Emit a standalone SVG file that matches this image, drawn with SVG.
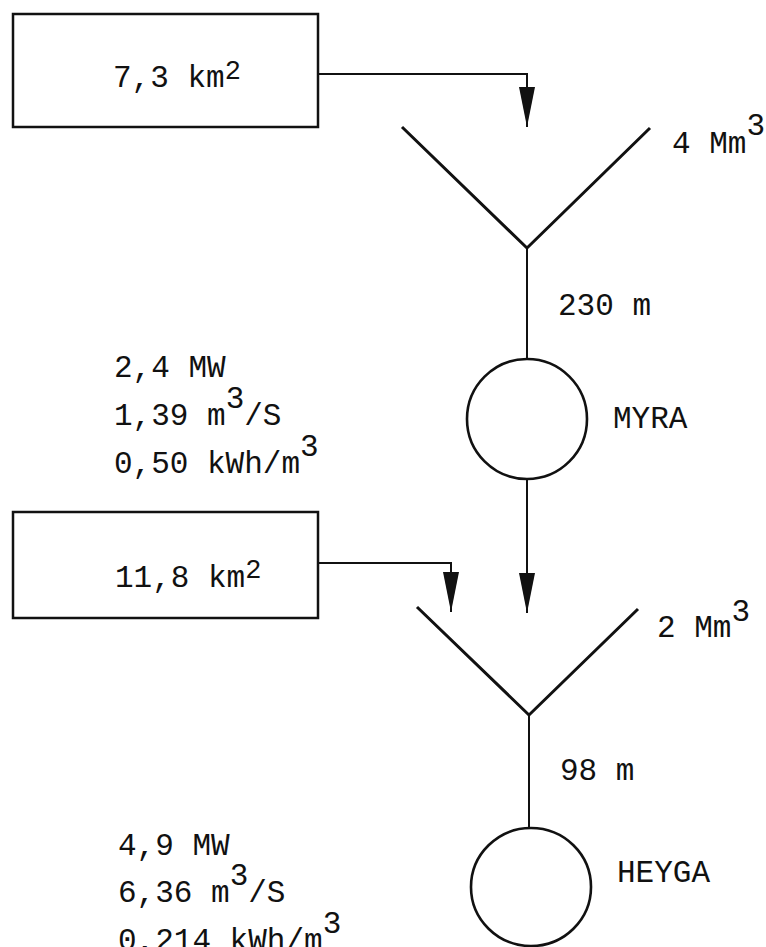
<svg xmlns="http://www.w3.org/2000/svg" width="766" height="947" viewBox="0 0 766 947">
<style>
  text { font-family: "Liberation Mono", "Courier New", monospace; font-size: 31px; fill: #111; }
  .box { fill: #fff; stroke: #111; stroke-width: 2.5; }
  .res { fill: none; stroke: #111; stroke-width: 3; stroke-linejoin: miter; }
  .st { fill: #fff; stroke: #111; stroke-width: 2.6; }
  .conn { fill: none; stroke: #111; stroke-width: 2; }
  .sup2 { font-size: 27px; }
</style>
<defs>
  <marker id="ah" viewBox="0 0 40 16" refX="40" refY="8" markerWidth="40" markerHeight="16" markerUnits="userSpaceOnUse" orient="auto">
    <path d="M0,0 L40,8 L0,16 Z" fill="#111"/>
  </marker>
</defs>
<rect width="766" height="947" fill="#fff"/>

<g id="catchment1">
  <rect class="box" x="13" y="14" width="305" height="113"/>
  <text x="113" y="87">7,3 km<tspan class="sup2" dy="-8">2</tspan></text>
</g>

<g id="reservoir1">
  <polyline class="res" points="402,127 527,248 650,128"/>
  <text x="672" y="153">4 Mm<tspan dy="-18">3</tspan></text>
</g>

<g id="myra">
  <circle class="st" cx="527" cy="419" r="60"/>
  <text x="613" y="428">MYRA</text>
  <text x="114" y="377">2,4 MW</text>
  <text x="114" y="425">1,39 m<tspan dy="-17">3</tspan><tspan dy="17">/S</tspan></text>
  <text x="114" y="473">0,50 kWh/m<tspan dy="-17">3</tspan></text>
</g>

<g id="catchment2">
  <rect class="box" x="13" y="512" width="305" height="106"/>
  <text x="115" y="587">11,8 km<tspan class="sup2" dy="-9">2</tspan></text>
</g>

<g id="reservoir2">
  <polyline class="res" points="417,607 529,715 638,609"/>
  <text x="657" y="637">2 Mm<tspan dy="-16">3</tspan></text>
</g>

<g id="heyga">
  <ellipse class="st" cx="531" cy="887" rx="60" ry="59"/>
  <text x="617" y="882">HEYGA</text>
  <text x="118" y="855">4,9 MW</text>
  <text x="118" y="902">6,36 m<tspan dy="-17">3</tspan><tspan dy="17">/S</tspan></text>
  <text x="118" y="950">0,214 kWh/m<tspan dy="-17">3</tspan></text>
</g>

<g id="connectors">
  <path class="conn" d="M318,74 H527 V127" marker-end="url(#ah)"/>
  <path class="conn" d="M527,248 V359"/>
  <text x="558" y="315">230 m</text>
  <path class="conn" d="M527,479 V613" marker-end="url(#ah)"/>
  <path class="conn" d="M318,563 H451 V612" marker-end="url(#ah)"/>
  <path class="conn" d="M529,715 V828"/>
  <text x="560" y="780">98 m</text>
</g>
</svg>
